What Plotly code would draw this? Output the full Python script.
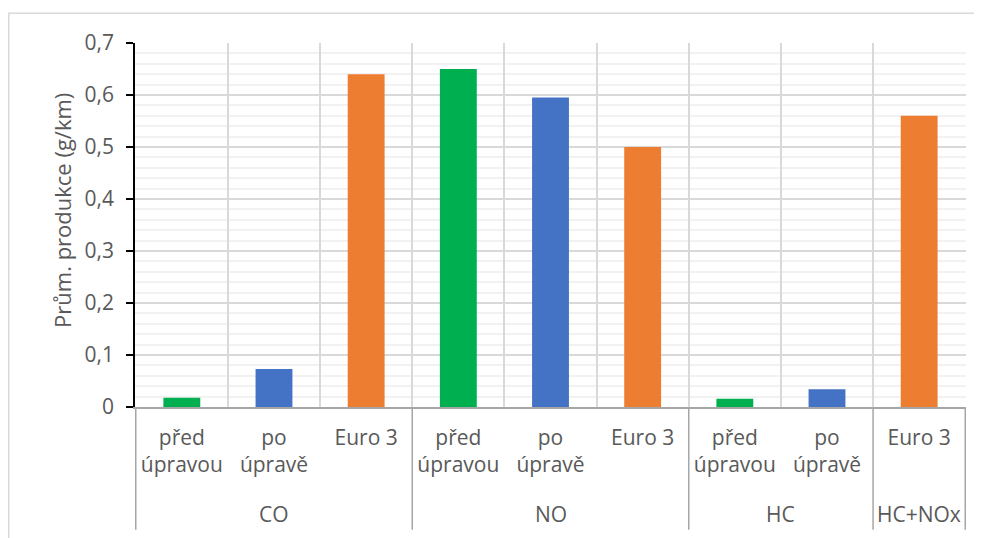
import plotly.graph_objects as go

# Data (g/km)
skupiny = ["CO", "CO", "CO", "NO", "NO", "NO", "HC", "HC", "HC+NOx"]
popisky = ["před<br>úpravou", "po<br>úpravě", "Euro 3",
           "před<br>úpravou", "po<br>úpravě", "Euro 3",
           "před<br>úpravou", "po<br>úpravě", "Euro 3"]
hodnoty = [0.018, 0.073, 0.64, 0.65, 0.595, 0.50, 0.016, 0.034, 0.56]
druh = ["pred", "po", "euro", "pred", "po", "euro", "pred", "po", "euro"]

BARVY = {"pred": "#00B050", "po": "#4472C4", "euro": "#ED7D31"}
TEXT = "#595959"
GRID = "#D9D9D9"
FONT = "Open Sans, sans-serif"

# unique category keys, shown through ticktext
klice = [f"{s}|{i}" for i, s in enumerate(skupiny)]

fig = go.Figure()
fig.add_trace(go.Bar(
    x=klice, y=hodnoty,
    marker=dict(color=[BARVY[d] for d in druh], line=dict(width=0)),
    showlegend=False,
))

fig.update_layout(
    width=974, height=530,
    separators=", ",
    font=dict(family=FONT, size=21, color=TEXT),
    paper_bgcolor="white", plot_bgcolor="white",
    margin=dict(l=127, r=16, t=35, b=131),
    bargap=0.6,
)
fig.update_xaxes(
    type="category", tickvals=klice, ticktext=popisky,
    tickson="boundaries", showgrid=True, gridcolor=GRID, gridwidth=1.5,
    showline=True, linecolor="#A6A6A6", linewidth=1.5, ticks="",
    ticklabelstandoff=11, tickfont=dict(size=21, color=TEXT),
)
fig.update_yaxes(
    range=[0, 0.7], dtick=0.1, showgrid=True, gridcolor=GRID, gridwidth=1.5,
    minor=dict(dtick=0.02, showgrid=True, gridcolor="#F2F2F2", gridwidth=1.5),
    showline=True, linecolor="black", linewidth=1.5,
    ticks="outside", ticklen=7, tickcolor="black", tickwidth=1.5,
    ticklabelstandoff=8, zeroline=False,
    tickfont=dict(size=21, color=TEXT),
)

# group labels and group dividers below the axis
hranice = [-0.5]
zacatek = 0
for i in range(1, len(skupiny) + 1):
    if i == len(skupiny) or skupiny[i] != skupiny[zacatek]:
        fig.add_annotation(
            text=skupiny[zacatek], x=(zacatek + i - 1) / 2, xref="x",
            y=-0.295, yref="paper", showarrow=False,
            xanchor="center", yanchor="middle",
            font=dict(size=21, color=TEXT),
        )
        hranice.append(i - 0.5)
        zacatek = i
for h in hranice:
    fig.add_shape(type="line", xref="x", yref="paper", x0=h, x1=h,
                  y0=0, y1=-0.337, line=dict(color="#A6A6A6", width=1.5))

fig.add_annotation(
    text="Prům. produkce (g/km)", textangle=-90, showarrow=False,
    xref="paper", yref="paper", x=-0.088, y=0.541,
    xanchor="center", yanchor="middle", font=dict(size=22, color=TEXT),
)

# chart-area border (Excel style)
fig.add_shape(type="rect", xref="paper", yref="paper",
              x0=-0.1519, y0=-0.5, x1=1.05, y1=1.0815,
              line=dict(color="#D9D9D9", width=1.5), layer="below")

fig.write_html("out.html")
